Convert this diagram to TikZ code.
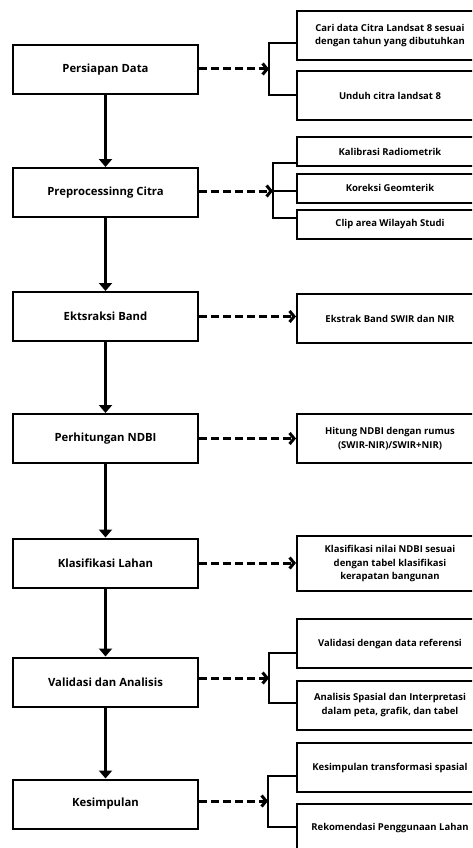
\documentclass[tikz,border=0pt]{standalone}
\usepackage{fontspec}
\setmainfont{Open Sans}
\usetikzlibrary{arrows.meta}

\begin{document}
\begin{tikzpicture}[
    x=1pt, y=-1pt,
    mainbox/.style={draw, line width=2pt, minimum width=185pt, minimum height=49pt, align=center, font=\fontsize{11.3}{13}\selectfont\bfseries},
    subbox/.style={draw, line width=2pt, minimum width=186pt, minimum height=49pt, align=center, font=\fontsize{9.5}{13.8}\selectfont\bfseries},
    flow/.style={-{Triangle[length=8pt, width=13pt]}, line width=2.2pt},
    dashlink/.style={-{Straight Barb[length=4.5pt, width=11pt]}, line width=3pt, dash pattern=on 7.5pt off 4.5pt},
    brace/.style={line width=2.7pt}
]
  \clip (0,0) rectangle (472,848);

  % main steps
  \node[mainbox] (persiapan) at (105.5,69.5) {Persiapan Data};
  \node[mainbox] (preproc) at (105.5,192.5) {Preprocessinng Citra};
  \node[mainbox] (ekstraksi) at (105.5,316.5) {Ektsraksi Band};
  \node[mainbox] (ndbi) at (105.5,438.5) {Perhitungan NDBI};
  \node[mainbox] (klasifikasi) at (105.5,563) {Klasifikasi Lahan};
  \node[mainbox] (validasi) at (105.5,682) {Validasi dan Analisis};
  \node[mainbox] (kesimpulan) at (105.5,804) {Kesimpulan};

  \draw[flow] (persiapan.south) -- (preproc.north);
  \draw[flow] (preproc.south) -- (ekstraksi.north);
  \draw[flow] (ekstraksi.south) -- (ndbi.north);
  \draw[flow] (ndbi.south) -- (klasifikasi.north);
  \draw[flow] (klasifikasi.south) -- (validasi.north);
  \draw[flow] (validasi.south) -- (kesimpulan.north);

  % details
  \node[subbox] (cari) at (390,35.5) {Cari data Citra Landsat 8 sesuai\\dengan tahun yang dibutuhkan};
  \node[subbox] (unduh) at (390,96) {Unduh citra landsat 8};
  \node[subbox, minimum height=29pt] (kalibrasi) at (390,151.5) {Kalibrasi Radiometrik};
  \node[subbox, minimum height=29pt] (koreksi) at (390,188) {Koreksi Geomterik};
  \node[subbox, minimum height=29pt] (clip) at (390,224.5) {Clip area Wilayah Studi};
  \node[subbox] (ekstrak) at (390,318.5) {Ekstrak Band SWIR dan NIR};
  \node[subbox] (hitung) at (390,438.5) {Hitung NDBI dengan rumus\\(SWIR-NIR)/SWIR+NIR)};
  \node[subbox, minimum height=55pt] (nilai) at (390,563.5) {Klasifikasi nilai NDBI sesuai\\dengan tabel klasifikasi\\kerapatan bangunan};
  \node[subbox] (referensi) at (390,643.5) {Validasi dengan data referensi};
  \node[subbox] (spasial) at (390,705) {Analisis Spasial dan Interpretasi\\dalam peta, grafik, dan tabel};
  \node[subbox] (transformasi) at (390,767.5) {Kesimpulan transformasi spasial};
  \node[subbox] (rekomendasi) at (390,828.5) {Rekomendasi Penggunaan Lahan};

  \coordinate (k1) at (269,69);
  \coordinate (k2) at (273,191);
  \coordinate (k6) at (269,678);
  \coordinate (k7) at (268,801);

  \draw[dashlink] (persiapan.east |- k1) -- (k1);
  \draw[brace] (cari.west |- 0,43) -| (k1) |- (unduh.west |- 0,95);

  \draw[dashlink] (preproc.east |- k2) -- (k2);
  \draw[brace] (kalibrasi.west |- 0,163) -| (k2) |- (clip.west |- 0,218);
  \draw[brace] (k2) -- (koreksi.west |- k2);

  \draw[dashlink] (ekstraksi.east) -- (ekstrak.west |- ekstraksi.east);
  \draw[dashlink] (ndbi.east) -- (hitung.west);
  \draw[dashlink] (klasifikasi.east) -- (nilai.west |- klasifikasi.east);

  \draw[dashlink] (validasi.east |- k6) -- (k6);
  \draw[brace] (referensi.west |- 0,653) -| (k6) |- (spasial.west |- 0,703);

  \draw[dashlink] (kesimpulan.east |- k7) -- (k7);
  \draw[brace] (transformasi.west |- 0,776) -| (k7) |- (rekomendasi.west |- 0,827);
\end{tikzpicture}
\end{document}
